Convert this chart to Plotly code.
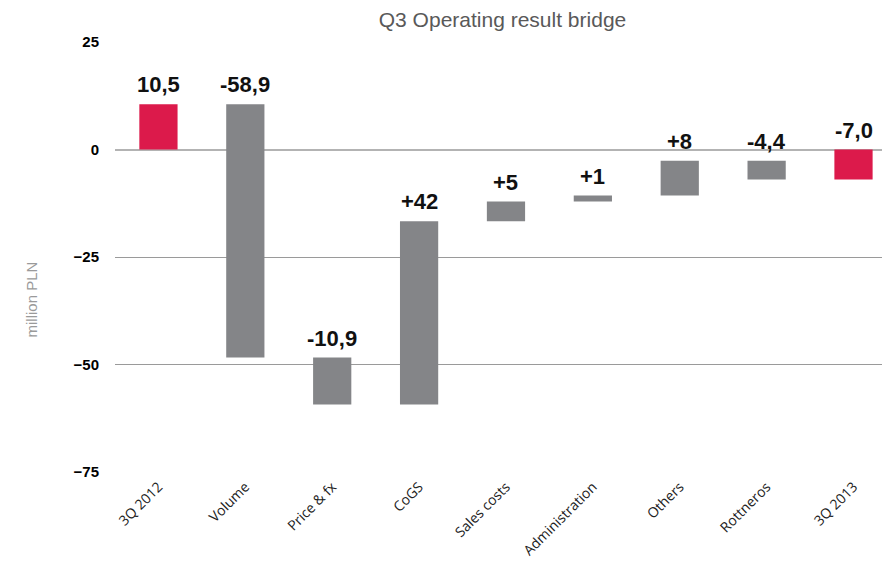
import plotly.graph_objects as go

# Data
categories = ["3Q 2012", "Volume", "Price & fx", "CoGS", "Sales costs",
              "Administration", "Others", "Rottneros", "3Q 2013"]
measures = ["absolute", "relative", "relative", "relative", "relative",
            "relative", "relative", "relative", "total"]
deltas = [10.5, -58.9, -10.9, 42.6, 4.6, 1.4, 8.1, -4.4, -7.0]
value_labels = ["10,5", "-58,9", "-10,9", "+42", "+5", "+1", "+8", "-4,4", "-7,0"]
y_ticks = [25, 0, -25, -50, -75]

RED = "#DC1A4B"
GREY = "#848588"

# Compute floating bar bases from the deltas
bases, tops, colors = [], [], []
running = 0.0
for m, d in zip(measures, deltas):
    if m == "absolute":
        start, end = 0.0, d
        running = d
        colors.append(RED)
    elif m == "total":
        start, end = 0.0, d
        colors.append(RED)
    else:
        start, end = running, running + d
        running = end
        colors.append(GREY)
    bases.append(start)
    tops.append(end - start)

fig = go.Figure()
fig.add_trace(go.Bar(
    x=categories, y=tops, base=bases,
    marker=dict(color=colors, line=dict(width=0)),
    width=0.44, hoverinfo="skip", showlegend=False,
))

for cat, b, t, lab in zip(categories, bases, tops, value_labels):
    ytop = max(b, b + t)
    fig.add_annotation(
        x=cat, y=ytop, text=lab, showarrow=False,
        xanchor="center", yanchor="bottom", yshift=5,
        font=dict(family="Liberation Sans, Arial, sans-serif", size=22,
                  color="#111111", weight="bold"),
    )

fig.add_annotation(
    xref="paper", yref="paper", x=-0.109, y=0.40, text="million PLN",
    textangle=-90, showarrow=False, xanchor="center", yanchor="middle",
    font=dict(family="Liberation Sans, Arial, sans-serif", size=15, color="#9a9a9a"),
)

fig.update_layout(
    width=882, height=557,
    margin=dict(l=107, r=0, t=34, b=93, autoexpand=False),
    paper_bgcolor="white", plot_bgcolor="white",
    title=dict(
        text="Q3 Operating result bridge", x=0.5, xref="paper", xanchor="center",
        y=1 - 12 / 557, yref="container", yanchor="middle",
        font=dict(family="Liberation Sans, Arial, sans-serif", size=21, color="#595959"),
    ),
    xaxis=dict(
        range=[-0.5, 8.42], tickangle=-45, showgrid=False, zeroline=False,
        showline=False, ticks="", ticklabelstandoff=3, automargin=False,
        tickfont=dict(family="Open Sans, sans-serif", size=14, color="#222222"),
    ),
    yaxis=dict(
        range=[-75, 25], tickvals=y_ticks, showgrid=True, gridcolor="#9a9a9a",
        gridwidth=1, zeroline=True, zerolinecolor="#b3b3b3", zerolinewidth=2,
        showline=False, ticks="", ticklabelstandoff=15, automargin=False,
        tickfont=dict(family="Liberation Sans, Arial, sans-serif", size=15,
                      color="#000000", weight="bold"),
    ),
    bargap=0.5,
)

fig.write_html("out.html")
